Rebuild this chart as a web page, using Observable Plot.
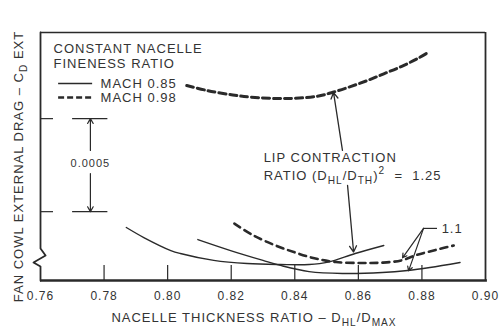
<!DOCTYPE html>
<html>
<head>
<meta charset="utf-8">
<script src="https://cdn.jsdelivr.net/npm/d3@7"></script>
<script src="https://cdn.jsdelivr.net/npm/@observablehq/plot@0.6"></script>
<style>
  html, body { margin: 0; padding: 0; background: #fff; }
  #chart { width: 499px; height: 331px; }
</style>
</head>
<body>
<div id="chart"></div>
<script>
// ---- data (x = D_HL/D_MAX, cd = relative external drag increment) ----
const xTicks = [0.76, 0.78, 0.80, 0.82, 0.84, 0.86, 0.88, 0.90];

const mach085_lcr125_x  = [0.787, 0.7925, 0.801, 0.804, 0.8145, 0.825, 0.8355, 0.8445, 0.8505, 0.859, 0.868];
const mach085_lcr125_cd = [0.000285, 0.000231, 0.000161, 0.000145, 0.000108, 0.000091, 0.000086, 0.000086, 0.000099, 0.000145, 0.000188];

const mach085_lcr110_x  = [0.8095, 0.8198, 0.830, 0.8355, 0.8445, 0.855, 0.8675, 0.8755, 0.8825, 0.892];
const mach085_lcr110_cd = [0.000220, 0.000161, 0.000108, 0.000081, 0.000048, 0.000038, 0.000043, 0.000054, 0.000070, 0.000097];

const mach098_lcr125_x  = [0.806, 0.8125, 0.8205, 0.826, 0.8365, 0.847, 0.852, 0.8575, 0.863, 0.868, 0.8735, 0.8785, 0.882];
const mach098_lcr125_cd = [0.001048, 0.001021, 0.000997, 0.000986, 0.000978, 0.000990, 0.001012, 0.001042, 0.001076, 0.001111, 0.001150, 0.001192, 0.001226];

const mach098_lcr110_x  = [0.821, 0.827, 0.834, 0.840, 0.8465, 0.853, 0.8615, 0.8675, 0.8735, 0.8785, 0.8845, 0.890];
const mach098_lcr110_cd = [0.000306, 0.000242, 0.000188, 0.000151, 0.000118, 0.000099, 0.000094, 0.000096, 0.000108, 0.000138, 0.000165, 0.000188];

const scaleBarDelta = 0.0005;   // labelled drag increment
const scaleBarBase  = 0.00037;

const yDomain = [0, 0.001333];
const xDomain = [0.76, 0.90];

// ---- build tables ----
const toRows = (xs, ys) => xs.map((x, i) => ({x, cd: ys[i]}));
const a = toRows(mach085_lcr125_x, mach085_lcr125_cd);
const b = toRows(mach085_lcr110_x, mach085_lcr110_cd);
const c = toRows(mach098_lcr125_x, mach098_lcr125_cd);
const d = toRows(mach098_lcr110_x, mach098_lcr110_cd);

const ink = "#2a2a2a";
const txt = "#333";
const font = "'Liberation Sans', Arial, sans-serif";
const tickLen = 0.00008;

const chart = Plot.plot({
  width: 499,
  height: 331,
  marginLeft: 40,
  marginRight: 14,
  marginTop: 32,
  marginBottom: 51,
  style: {fontFamily: font, fontSize: "12px", color: txt, background: "#fff", letterSpacing: "1px"},
  x: {domain: xDomain, ticks: xTicks, tickSize: 0, tickPadding: 11, tickFormat: d3.format(".2f"), label: null},
  y: {domain: yDomain, axis: null},
  marks: [
    // frame: top, right, bottom
    Plot.ruleY([yDomain[1]], {x1: xDomain[0], x2: xDomain[1], stroke: ink, strokeWidth: 1.3}),
    Plot.ruleX([xDomain[1]], {y1: yDomain[0], y2: yDomain[1], stroke: ink, strokeWidth: 1.8}),
    Plot.ruleY([yDomain[0]], {x1: xDomain[0], x2: 0.9006, stroke: ink, strokeWidth: 2.6}),
    // left axis with break
    Plot.line([
      [0.76, yDomain[1]], [0.76, 0.000172], [0.7616, 0.000134], [0.7578, 0.000097], [0.76, 0.000075], [0.76, 0]
    ], {x: p => p[0], y: p => p[1], stroke: ink, strokeWidth: 1.8, curve: "linear"}),
    // inner x ticks
    Plot.ruleX(xTicks.slice(1, -1), {y1: 0, y2: tickLen, stroke: ink, strokeWidth: 1.2}),
    // left ticks and scale bar
    Plot.ruleY([scaleBarBase, scaleBarBase + scaleBarDelta], {x1: 0.76, x2: 0.7641, stroke: ink, strokeWidth: 1.2}),
    Plot.ruleY([scaleBarBase, scaleBarBase + scaleBarDelta], {x1: 0.7701, x2: 0.7812, stroke: ink, strokeWidth: 1.2}),
    Plot.arrow([0], {x1: 0.7757, x2: 0.7757, y1: 0.000699, y2: scaleBarBase + scaleBarDelta, stroke: ink, strokeWidth: 1.2, headLength: 7}),
    Plot.arrow([0], {x1: 0.7757, x2: 0.7757, y1: 0.000575, y2: scaleBarBase, stroke: ink, strokeWidth: 1.2, headLength: 7}),
    Plot.text([d3.format(".4f")(scaleBarDelta)], {x: 0.7757, y: 0.000629, text: t => t, fontSize: 11, fill: txt}),
    // curves
    Plot.line(a, {x: "x", y: "cd", stroke: ink, strokeWidth: 1.4, curve: "catmull-rom"}),
    Plot.line(b, {x: "x", y: "cd", stroke: ink, strokeWidth: 1.4, curve: "catmull-rom"}),
    Plot.line(c, {x: "x", y: "cd", stroke: ink, strokeWidth: 3, strokeDasharray: "7,4", curve: "catmull-rom"}),
    Plot.line(d, {x: "x", y: "cd", stroke: ink, strokeWidth: 2.6, strokeDasharray: "7,5", curve: "catmull-rom"}),
    // legend
    Plot.text(["CONSTANT NACELLE"], {x: 0.7641, y: 0.001247, text: t => t, textAnchor: "start", fontSize: 13, fill: txt}),
    Plot.text(["FINENESS RATIO"], {x: 0.7641, y: 0.001167, text: t => t, textAnchor: "start", fontSize: 13, fill: txt}),
    Plot.ruleY([0.001059], {x1: 0.7657, x2: 0.7764, stroke: ink, strokeWidth: 1.4}),
    Plot.ruleY([0.000984], {x1: 0.7657, x2: 0.7764, stroke: ink, strokeWidth: 2.6, strokeDasharray: "6,3"}),
    Plot.text(["MACH 0.85"], {x: 0.7789, y: 0.001059, text: t => t, textAnchor: "start", fontSize: 13, fill: txt}),
    Plot.text(["MACH 0.98"], {x: 0.7789, y: 0.000984, text: t => t, textAnchor: "start", fontSize: 13, fill: txt}),
    // lip contraction annotation
    Plot.text(["LIP CONTRACTION"], {x: 0.8302, y: 0.000661, text: t => t, textAnchor: "start", fontSize: 13, fill: txt}),
    Plot.text(["RATIO (D_{HL}/D_{TH})^{2}  =  1.25"], {x: 0.8302, y: 0.000565, text: t => t, textAnchor: "start", fontSize: 13, fill: txt}),
    Plot.arrow([0], {x1: 0.8550, y1: 0.000699, x2: 0.8522, y2: 0.001010, stroke: ink, strokeWidth: 1.3, headLength: 8}),
    Plot.arrow([0], {x1: 0.8566, y1: 0.000511, x2: 0.8585, y2: 0.000153, stroke: ink, strokeWidth: 1.3, headLength: 8}),
    // 1.1 annotation
    Plot.ruleY([0.000280], {x1: 0.8805, x2: 0.8849, stroke: ink, strokeWidth: 1.2}),
    Plot.arrow([0], {x1: 0.8805, y1: 0.000280, x2: 0.8739, y2: 0.000122, stroke: ink, strokeWidth: 1.2, headLength: 6}),
    Plot.arrow([0], {x1: 0.8805, y1: 0.000280, x2: 0.8758, y2: 0.000052, stroke: ink, strokeWidth: 1.2, headLength: 6}),
    Plot.text(["1.1"], {x: 0.8862, y: 0.000280, text: t => t, textAnchor: "start", fontSize: 13, fill: txt}),
    // axis titles
    Plot.text(["NACELLE THICKNESS RATIO \u2013 D_{HL}/D_{MAX}"], {frameAnchor: "bottom", textAnchor: "middle", text: t => t, dy: 41, dx: -9, fontSize: 13, fill: txt, letterSpacing: "1.6px"}),
    Plot.text(["FAN COWL EXTERNAL DRAG \u2013 C_{D} EXT"], {frameAnchor: "left", textAnchor: "middle", text: t => t, rotate: -90, dx: -22, dy: 10, fontSize: 13, fill: txt, letterSpacing: "1.3px"})
  ]
});

// convert _{..} and ^{..} markup into real sub/superscript tspans
function richify(svg) {
  const NS = "http://www.w3.org/2000/svg";
  svg.querySelectorAll("text").forEach(t => {
    const targets = t.querySelectorAll("tspan").length ? [...t.querySelectorAll("tspan")] : [t];
    targets.forEach(el => {
      const s = el.textContent;
      if (!/[_^]\{/.test(s)) return;
      el.textContent = "";
      let shift = 0;
      const add = (str, kind) => {
        if (!str) return;
        const ts = document.createElementNS(NS, "tspan");
        ts.textContent = str;
        const target = kind === "_" ? 4 : kind === "^" ? -6 : 0;
        const dd = target - shift;
        if (dd) ts.setAttribute("dy", dd);
        shift = target;
        if (kind) ts.setAttribute("font-size", "78%");
        el.appendChild(ts);
      };
      const re = /([_^])\{([^}]*)\}/g;
      let last = 0, m;
      while ((m = re.exec(s))) {
        add(s.slice(last, m.index), null);
        add(m[2], m[1]);
        last = re.lastIndex;
      }
      add(s.slice(last), null);
    });
  });
}
richify(chart);
document.getElementById("chart").appendChild(chart);
</script>
</body>
</html>
